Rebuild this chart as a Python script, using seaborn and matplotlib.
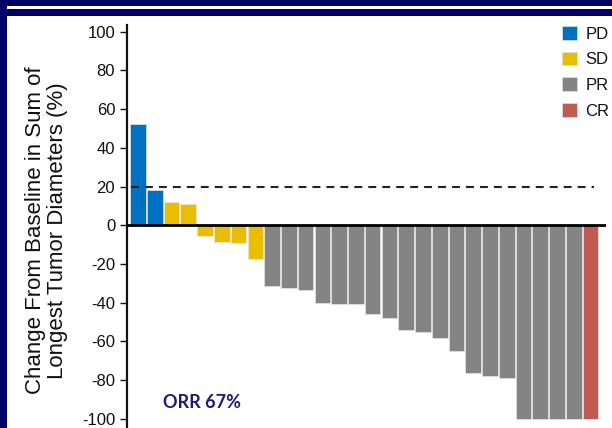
import matplotlib
matplotlib.use("Agg")
import matplotlib.pyplot as plt
from matplotlib.patches import Patch, Rectangle
import pandas as pd
import seaborn as sns

# Best change in tumour size per patient, grouped by best overall response
pd_values = [52.5, 18.1]
sd_values = [11.9, 10.9, -5.4, -8.6, -9.3, -17.6]
pr_values = [-31.5, -32.2, -33.4, -40.2, -40.8, -40.8, -45.7, -48.1, -54.1,
             -55.3, -58.3, -65.0, -76.5, -77.7, -78.9, -100.0, -100.0,
             -100.0, -100.0]
cr_values = [-100.0]

responses = ["PD", "SD", "PR", "CR"]
response_colors = ["#0070C0", "#EBBD00", "#848484", "#BF5B50"]
y_ticks = [-100, -80, -60, -40, -20, 0, 20, 40, 60, 80, 100]
progression_threshold = 20
orr_text = "ORR 67%"
y_label = "Change From Baseline in Sum of\nLongest Tumor Diameters (%)"

changes = pd_values + sd_values + pr_values + cr_values
groups = (["PD"] * len(pd_values) + ["SD"] * len(sd_values)
          + ["PR"] * len(pr_values) + ["CR"] * len(cr_values))
df = pd.DataFrame({"patient": range(len(changes)),
                   "change": changes,
                   "response": groups})
palette = dict(zip(responses, response_colors))

sns.set_style("ticks")
plt.rcParams["font.family"] = ["Liberation Sans", "DejaVu Sans"]

fig = plt.figure(figsize=(6.12, 4.28), dpi=100)
fig.patch.set_facecolor("white")
W, H = 612, 428
ax = fig.add_axes([127 / W, 0, 479 / W, 403 / H])

sns.barplot(data=df, x="patient", y="change", hue="response",
            hue_order=responses, palette=palette, dodge=False, width=0.93,
            edgecolor="#e6e6e6", linewidth=0.5, saturation=1, legend=False,
            ax=ax)

ax.set_xlim(-0.656, 27.92)
ax.set_ylim(-104.8, 103.5)
ax.set_yticks(y_ticks)
ax.set_yticklabels([str(t) for t in y_ticks])
ax.tick_params(axis="y", direction="out", length=5, width=1.0,
               labelsize=12, pad=3.5, colors="#111111")
ax.tick_params(axis="x", bottom=False, labelbottom=False)
ax.set_xlabel("")

for side in ("top", "right", "bottom"):
    ax.spines[side].set_visible(False)
ax.spines["left"].set_linewidth(1.6)
ax.spines["left"].set_color("#111111")

# Baseline and progression threshold
ax.axhline(0, color="black", linewidth=2.0, zorder=5)
ax.axhline(progression_threshold, xmin=0.008, xmax=0.975, color="#222222",
           linewidth=1.5, linestyle=(0, (3.8, 2.9)), zorder=6)

ax.set_ylabel(y_label, fontsize=16, color="#111111", linespacing=1.05)
ax.yaxis.label.set_va("center")
ax.yaxis.set_label_coords(-0.168, 0.49)

ax.text(0.157, 0.0645, orr_text, transform=ax.transAxes, ha="center",
        va="center", fontsize=13, fontweight="bold", color="#1c1c78",
        family=["Lato", "DejaVu Sans"])

handles = [Patch(facecolor=c, edgecolor="#dddddd", linewidth=0.5)
           for c in response_colors]
fig.legend(handles, responses, loc="upper left",
           bbox_to_anchor=(562 / W, 1 - 26 / H), frameon=False,
           fontsize=12, handlelength=0.9, handleheight=0.9,
           handletextpad=0.5, labelspacing=0.6, borderpad=0,
           borderaxespad=0, labelcolor="#111111")

# Slide frame bands
navy = "#000066"
fig.add_artist(Rectangle((0, 1 - 16 / H), 1, 16 / H, transform=fig.transFigure,
                         facecolor=navy, edgecolor="none", zorder=10))
fig.add_artist(Rectangle((6.5 / W, 1 - 8.5 / H), 1, 3 / H,
                         transform=fig.transFigure, facecolor="white",
                         edgecolor="none", zorder=11))
fig.add_artist(Rectangle((0, 0), 6.5 / W, 1, transform=fig.transFigure,
                         facecolor=navy, edgecolor="none", zorder=12))

fig.savefig("out.png", dpi=100)
